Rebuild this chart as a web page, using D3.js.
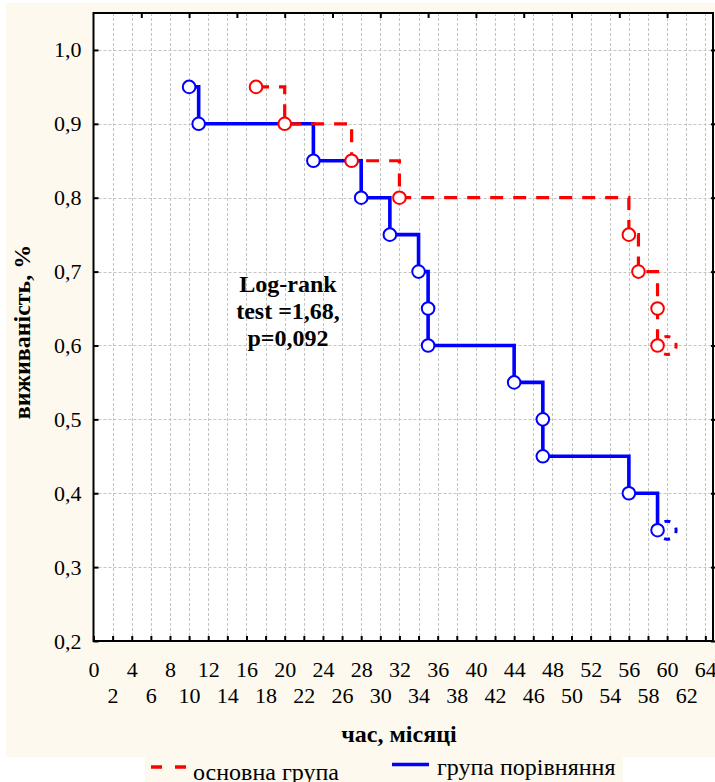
<!DOCTYPE html>
<html>
<head>
<meta charset="utf-8">
<script src="https://cdn.jsdelivr.net/npm/d3@7"></script>
<style>
  html, body { margin: 0; padding: 0; background: #ffffff; }
  svg { display: block; }
  text { font-family: "Liberation Serif", "Times New Roman", serif; fill: #000; }
</style>
</head>
<body>
<svg id="chart" width="715" height="782"></svg>
<script>
// Kaplan–Meier survival data, months vs survival fraction
const mainTimes = [17, 20, 27, 32, 56, 57, 59, 59];
const mainSurv  = [0.95, 0.90, 0.85, 0.80, 0.75, 0.70, 0.65, 0.60];
const mainCensoredTimes = [60];
const mainCensoredSurv  = [0.60];

const compTimes = [10, 11, 23, 28, 31, 34, 35, 35, 44, 47, 47, 56, 59];
const compSurv  = [0.95, 0.90, 0.85, 0.80, 0.75, 0.70, 0.65, 0.60, 0.55, 0.50, 0.45, 0.40, 0.35];
const compCensoredTimes = [60];
const compCensoredSurv  = [0.35];

const seriesNames = ["основна група", "група порівняння"];
const yTickValues = [0.2, 0.3, 0.4, 0.5, 0.6, 0.7, 0.8, 0.9, 1.0];
const xTickValues = d3.range(0, 65, 2);
const topTickValues = d3.range(5, 65, 5);
const statLines = ["Log-rank", "test =1,68,", "p=0,092"];
const xTitle = "час, місяці";
const yTitle = "виживаність, %";

const svg = d3.select("#chart");

// panel backgrounds
svg.append("rect").attr("x", 6).attr("y", 3).attr("width", 709).attr("height", 754).attr("fill", "#fdf9ee");
svg.append("rect").attr("x", 145).attr("y", 757).attr("width", 478).attr("height", 25).attr("fill", "#fdf9ee");

const plotL = 93.5, plotR = 713, plotT = 13, plotB = 641;
const x = d3.scaleLinear().domain([0, 64.8]).range([plotL, plotR]);
const y = d3.scaleLinear().domain([0.2, 1.05]).range([plotB, plotT]);

svg.append("rect").attr("x", plotL).attr("y", plotT).attr("width", plotR - plotL).attr("height", plotB - plotT).attr("fill", "#ffffff");

// grid
const grid = svg.append("g").attr("stroke", "#c4c4c4").attr("stroke-width", 1).attr("stroke-dasharray", "3,2");
grid.selectAll("line.v").data(xTickValues.filter(d => d > 0)).join("line").attr("class", "v")
  .attr("x1", d => Math.round(x(d)) + 0.5).attr("x2", d => Math.round(x(d)) + 0.5)
  .attr("y1", plotT).attr("y2", plotB);
grid.selectAll("line.h").data(yTickValues.filter(d => d > 0.2)).join("line").attr("class", "h")
  .attr("y1", d => Math.round(y(d)) + 0.5).attr("y2", d => Math.round(y(d)) + 0.5)
  .attr("x1", plotL).attr("x2", plotR);

const fmt = d => d3.format(".1f")(d).replace(".", ",");

// left axis
const yAxis = d3.axisLeft(y).tickValues(yTickValues).tickFormat(fmt).tickSize(-5).tickPadding(12);
const gy = svg.append("g").attr("transform", `translate(${plotL},0)`).call(yAxis);
gy.select(".domain").remove();
gy.selectAll(".tick line").attr("stroke", "#000").attr("stroke-width", 2);
gy.selectAll(".tick text").attr("font-size", 22).attr("font-family", "Liberation Serif, serif").attr("fill", "#111");

// right axis ticks
const gr = svg.append("g").attr("transform", `translate(${plotR},0)`).call(d3.axisRight(y).tickValues(yTickValues).tickFormat("").tickSize(3));
gr.select(".domain").remove();
gr.selectAll(".tick line").attr("stroke", "#000").attr("stroke-width", 2).attr("x1", -2);

// bottom axis, two staggered label rows
const xAxis = d3.axisBottom(x).tickValues(xTickValues).tickFormat(d => d).tickSize(-5).tickPadding(0);
const gx = svg.append("g").attr("transform", `translate(0,${plotB})`).call(xAxis);
gx.select(".domain").remove();
gx.selectAll(".tick line").attr("stroke", "#000").attr("stroke-width", 2);
gx.selectAll(".tick text")
  .attr("font-size", 22).attr("font-family", "Liberation Serif, serif").attr("fill", "#111")
  .attr("dy", null)
  .attr("y", d => (d % 4 === 0) ? 36 : 62);

// top axis ticks
const gt = svg.append("g").attr("transform", `translate(0,${plotT})`).call(d3.axisTop(x).tickValues(topTickValues).tickFormat("").tickSize(-5));
gt.select(".domain").remove();
gt.selectAll(".tick line").attr("stroke", "#000").attr("stroke-width", 2);

// frame
svg.append("rect").attr("x", plotL).attr("y", plotT).attr("width", plotR - plotL).attr("height", plotB - plotT)
  .attr("fill", "none").attr("stroke", "#000").attr("stroke-width", 2);

// survival curves
const stepLine = d3.line().x(d => x(d[0])).y(d => y(d[1])).curve(d3.curveStepAfter);
const compPts = compTimes.map((t, i) => [t, compSurv[i]]);
const mainPts = mainTimes.map((t, i) => [t, mainSurv[i]]);

svg.append("path").attr("d", stepLine(compPts)).attr("fill", "none")
  .attr("stroke", "#0000ff").attr("stroke-width", 3.6);
svg.append("path").attr("d", stepLine(mainPts)).attr("fill", "none")
  .attr("stroke", "#ff0000").attr("stroke-width", 3.2).attr("stroke-dasharray", "13,10");

// censored observations: dashed ring
const ringR = 9, ringPeriod = 2 * Math.PI * ringR / 4;
function censored(times, surv, color) {
  svg.append("g").selectAll("circle").data(times.map((t, i) => [t, surv[i]])).join("circle")
    .attr("cx", d => x(d[0])).attr("cy", d => y(d[1])).attr("r", ringR)
    .attr("fill", "none").attr("stroke", color).attr("stroke-width", 3)
    .attr("stroke-dasharray", `6,${ringPeriod - 6}`).attr("stroke-dashoffset", 3);
}
censored(compCensoredTimes, compCensoredSurv, "#0000ff");
censored(mainCensoredTimes, mainCensoredSurv, "#ff0000");

// event markers
function markers(pts, color) {
  svg.append("g").selectAll("circle").data(pts).join("circle")
    .attr("cx", d => x(d[0])).attr("cy", d => y(d[1])).attr("r", 6.3)
    .attr("fill", "#ffffff").attr("stroke", color).attr("stroke-width", 2);
}
markers(compPts, "#0000ff");
markers(mainPts, "#ff0000");

// test statistic annotation
svg.append("text").attr("x", 288).attr("y", 292).attr("text-anchor", "middle")
  .attr("font-size", 24).attr("font-weight", "bold")
  .selectAll("tspan").data(statLines).join("tspan")
  .attr("x", 288).attr("dy", (d, i) => i === 0 ? 0 : 27).text(d => d);

// axis titles
svg.append("text").attr("x", 399).attr("y", 742).attr("text-anchor", "middle")
  .attr("font-size", 24).attr("font-weight", "bold").text(xTitle);
svg.append("text").attr("transform", "translate(30,332) rotate(-90)").attr("text-anchor", "middle")
  .attr("font-size", 24).attr("font-weight", "bold").text(yTitle);

// legend
svg.append("line").attr("x1", 151).attr("x2", 188).attr("y1", 767).attr("y2", 767)
  .attr("stroke", "#ff0000").attr("stroke-width", 3.5).attr("stroke-dasharray", "11,13");
svg.append("text").attr("x", 193).attr("y", 780).attr("font-size", 24).text(seriesNames[0]);
svg.append("line").attr("x1", 392).attr("x2", 429).attr("y1", 764.5).attr("y2", 764.5)
  .attr("stroke", "#0000ff").attr("stroke-width", 3.5);
svg.append("text").attr("x", 437).attr("y", 775).attr("font-size", 24).text(seriesNames[1]);
</script>
</body>
</html>
